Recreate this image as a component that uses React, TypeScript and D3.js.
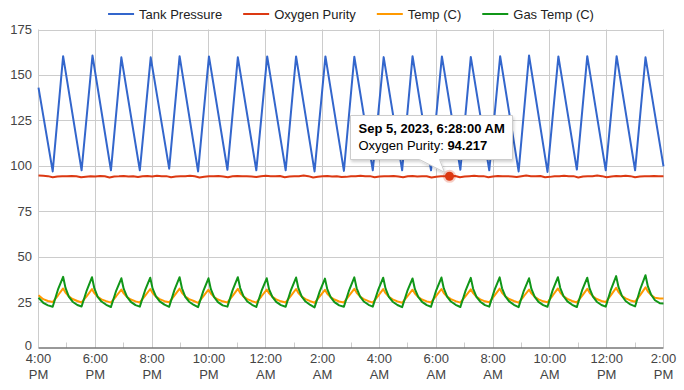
import React, { useEffect, useRef } from 'react'
import * as d3 from 'd3'

const seriesNames = ['Tank Pressure', 'Oxygen Purity', 'Temp (C)', 'Gas Temp (C)']
const seriesColors = ['#3366cc', '#dc3912', '#ff9900', '#109618']
const yTicks = [0, 25, 50, 75, 100, 125, 150, 175]

// times are minutes after Sep 4 2023, 4:00 PM
const tankMinutes = [0,
  30, 52, 91, 114, 153, 175, 214, 237, 276, 298, 337, 360, 399, 421,
  460, 483, 522, 544, 583, 606, 645, 667, 706, 729, 768, 790, 829, 852,
  891, 913, 952, 975, 1014, 1036, 1075, 1098, 1137, 1159, 1198, 1221, 1260, 1282,
  1320]
const tankPressure = [143,
  96.9, 160.3, 97.5, 160.7, 97.5, 159.7, 97.5, 159.7, 98.4, 160.3, 96.9, 160.2, 97.8, 159.7,
  97.5, 160.2, 97.5, 160.2, 96.9, 160.2, 97.2, 160.0, 97.5, 159.8, 97.5, 160.3, 97.5, 160.2,
  97.8, 159.9, 97.5, 160.3, 96.9, 160.7, 96.6, 160.2, 97.9, 160.3, 97.5, 160.3, 97.5, 159.7,
  99.7]

// oxygen purity sampled every 10 minutes
const purityStep = 10
const oxygenPurity = [
  94.6, 94.5, 94.3, 93.7, 94.1, 94.3, 94.2, 94.4, 94.2, 93.7,
  94.0, 94.3, 94.1, 94.4, 94.2, 93.6, 94.1, 94.2, 94.4, 94.1,
  94.3, 93.8, 94.2, 94.4, 94.1, 94.5, 94.2, 94.3, 93.7, 94.1,
  94.3, 94.2, 94.5, 94.2, 93.6, 94.0, 94.3, 94.2, 94.4, 94.1,
  93.7, 94.2, 94.4, 94.2, 94.3, 94.1, 93.8, 94.2, 94.5, 94.3,
  94.2, 94.4, 93.7, 94.1, 94.3, 94.2, 94.6, 94.3, 93.6, 94.0,
  94.2, 94.4, 94.1, 94.3, 93.8, 93.9, 94.3, 94.2, 94.5, 94.2,
  94.3, 93.7, 94.1, 94.3, 94.2, 94.4, 94.1, 93.7, 94.2, 94.4,
  94.1, 94.3, 94.2, 93.6, 94.0, 94.2, 94.3, 94.2, 94.4, 93.7,
  94.1, 94.3, 94.5, 94.2, 94.3, 93.7, 94.1, 94.4, 94.2, 94.3,
  94.1, 93.8, 94.2, 94.6, 94.3, 94.2, 94.4, 93.7, 93.9, 94.3,
  94.2, 94.5, 94.2, 94.3, 93.6, 94.1, 94.3, 94.2, 94.6, 94.3,
  93.7, 94.1, 94.4, 94.2, 94.5, 94.3, 93.7, 94.1, 94.3, 94.2,
  94.4, 94.2, 94.3]

// temperature samples: lead-in, then one row per compressor cycle
// (offsets in minutes from each pressure trough), then the last sample
const leadMinutes = [0, 10, 20]
const cycleOffsets = [0, 11, 22, 27, 34, 42, 52]
const endMinute = 1320

const tempLead = [28.8, 26.6, 25.6]
const tempCycles = [
  [25.0, 28.6, 32.5, 30.2, 28.1, 26.7, 25.6],
  [24.8, 28.3, 32.1, 29.9, 27.9, 26.5, 25.5],
  [24.7, 28.2, 31.9, 29.8, 27.8, 26.4, 25.4],
  [24.8, 28.4, 32.2, 30.0, 28.0, 26.6, 25.5],
  [24.9, 28.5, 32.4, 30.1, 28.1, 26.6, 25.6],
  [24.6, 28.1, 31.8, 29.7, 27.8, 26.4, 25.4],
  [24.8, 28.4, 32.3, 30.0, 28.0, 26.6, 25.5],
  [24.7, 28.2, 31.9, 29.8, 27.9, 26.5, 25.4],
  [24.8, 28.4, 32.2, 30.0, 28.0, 26.6, 25.5],
  [24.6, 28.1, 31.7, 29.6, 27.7, 26.4, 25.3],
  [24.8, 28.5, 32.3, 30.1, 28.1, 26.6, 25.5],
  [24.7, 28.3, 32.1, 29.9, 27.9, 26.5, 25.4],
  [24.6, 28.1, 31.8, 29.7, 27.8, 26.4, 25.4],
  [24.8, 28.4, 32.2, 30.0, 28.0, 26.6, 25.5],
  [24.7, 28.3, 32.0, 29.9, 27.9, 26.5, 25.4],
  [24.9, 28.5, 32.4, 30.1, 28.1, 26.7, 25.6],
  [24.7, 28.2, 31.9, 29.8, 27.9, 26.5, 25.4],
  [24.9, 28.6, 32.5, 30.2, 28.2, 26.8, 25.6],
  [24.8, 28.4, 32.3, 30.1, 28.1, 26.7, 25.6],
  [25.0, 28.8, 32.8, 30.5, 28.4, 27.0, 25.9],
  [25.2, 29.0, 33.1, 30.8, 28.8, 27.4, 27.0],
]
const tempEnd = 26.9

const gasTempLead = [27.4, 24.6, 23.2]
const gasTempCycles = [
  [22.4, 31.8, 38.9, 32.8, 28.0, 25.2, 23.4],
  [22.6, 31.5, 38.7, 32.5, 27.9, 25.3, 23.5],
  [22.3, 31.2, 38.1, 32.2, 27.8, 25.1, 23.3],
  [22.5, 31.4, 38.4, 32.4, 28.1, 25.4, 23.6],
  [22.4, 31.6, 38.7, 32.6, 27.9, 25.2, 23.4],
  [22.2, 31.0, 38.1, 32.1, 27.7, 25.0, 23.2],
  [22.5, 31.6, 38.7, 32.7, 28.2, 25.3, 23.5],
  [22.3, 31.1, 38.1, 32.0, 27.8, 25.1, 23.3],
  [22.4, 31.5, 38.5, 32.5, 28.0, 25.3, 23.4],
  [22.1, 30.9, 37.9, 32.0, 27.7, 25.0, 23.2],
  [22.4, 31.5, 38.6, 32.6, 28.1, 25.3, 23.5],
  [22.5, 31.4, 38.4, 32.4, 27.9, 25.2, 23.4],
  [22.2, 31.1, 38.0, 32.1, 27.8, 25.1, 23.3],
  [22.4, 31.5, 38.5, 32.5, 28.0, 25.3, 23.5],
  [22.3, 31.3, 38.3, 32.3, 27.9, 25.2, 23.3],
  [22.5, 31.6, 38.6, 32.6, 28.1, 25.4, 23.5],
  [22.2, 31.2, 38.1, 32.2, 27.8, 25.1, 23.3],
  [22.4, 31.6, 38.7, 32.7, 28.2, 25.4, 23.5],
  [22.3, 31.4, 38.4, 32.4, 28.0, 25.2, 23.4],
  [22.5, 31.9, 39.3, 33.2, 28.5, 25.6, 23.7],
  [22.6, 32.2, 39.8, 33.6, 29.0, 26.0, 24.4],
]
const gasTempEnd = 24.2

// hovered point
const tipMinute = 868
const tipValue = 94.217
const tipTitle = 'Sep 5, 2023, 6:28:00 AM'
const tipLabel = 'Oxygen Purity: '
const tipValueText = '94.217'

const FONT = 'Arial, "Liberation Sans", sans-serif'

type Pt = { m: number; v: number }

function cyclePoints(lead: number[], rows: number[][], last: number): Pt[] {
  const troughs = tankMinutes.filter((_, i) => i % 2 === 1 && i < tankMinutes.length - 1)
  const pts: Pt[] = leadMinutes.map((m, i) => ({ m, v: lead[i] }))
  rows.forEach((row, k) => {
    row.forEach((v, j) => pts.push({ m: troughs[k] + cycleOffsets[j], v }))
  })
  pts.push({ m: endMinute, v: last })
  return pts
}

export default function App() {
  const ref = useRef<SVGSVGElement>(null)

  useEffect(() => {
    document.body.style.margin = '0'
    const svg = d3.select(ref.current)
    svg.selectAll('*').remove()

    const left = 38.5, right = 663.5, top = 29.5, bottom = 347.5
    const t0 = new Date(2023, 8, 4, 16, 0)
    const t1 = new Date(2023, 8, 5, 14, 0)
    const at = (m: number) => new Date(t0.getTime() + m * 60000)

    const x = d3.scaleTime().domain([t0, t1]).range([left, right])
    const y = d3.scaleLinear().domain([0, 175]).range([bottom, top])

    const defs = svg.append('defs')
    const f = defs.append('filter').attr('id', 'tipShadow')
      .attr('x', '-20%').attr('y', '-20%').attr('width', '140%').attr('height', '160%')
    f.append('feDropShadow').attr('dx', 1).attr('dy', 2).attr('stdDeviation', 1.5)
      .attr('flood-color', '#000').attr('flood-opacity', 0.18)

    // grid
    const grid = svg.append('g')
    grid.selectAll('line.h')
      .data(yTicks.filter(d => d !== 0))
      .join('line')
      .attr('x1', left).attr('x2', right)
      .attr('y1', d => Math.round(y(d)) + 0.5).attr('y2', d => Math.round(y(d)) + 0.5)
      .attr('stroke', '#cccccc')

    const major = x.ticks(d3.timeHour.every(2)!)
    grid.selectAll('line.v')
      .data(major)
      .join('line')
      .attr('x1', d => Math.round(x(d) - 0.5) + 0.5).attr('x2', d => Math.round(x(d) - 0.5) + 0.5)
      .attr('y1', top).attr('y2', bottom)
      .attr('stroke', '#cccccc')

    const minor = x.ticks(d3.timeHour.every(1)!).filter(d => d.getHours() % 2 === 1)
    grid.selectAll('line.m')
      .data(minor)
      .join('line')
      .attr('x1', d => Math.round(x(d) - 0.5) + 0.5).attr('x2', d => Math.round(x(d) - 0.5) + 0.5)
      .attr('y1', bottom - 5).attr('y2', bottom)
      .attr('stroke', '#cccccc')

    // y labels
    svg.append('g').selectAll('text')
      .data(yTicks)
      .join('text')
      .attr('x', 32).attr('y', d => y(d) - (d === 0 ? 2 : 0)).attr('dy', '0.35em')
      .attr('text-anchor', 'end')
      .attr('font-family', FONT).attr('font-size', 13).attr('fill', '#444')
      .text(d => d)

    // x labels
    const xl = svg.append('g').selectAll('text')
      .data(major)
      .join('text')
      .attr('text-anchor', 'middle')
      .attr('font-family', FONT).attr('font-size', 13).attr('fill', '#444')
    xl.append('tspan').attr('x', d => x(d)).attr('y', 363).text(d => d3.timeFormat('%-I:%M')(d))
    xl.append('tspan').attr('x', d => x(d)).attr('y', 379).text(d => d3.timeFormat('%p')(d))

    // series
    const line = d3.line<Pt>().x(d => x(at(d.m))).y(d => y(d.v))
    const series: Pt[][] = [
      tankMinutes.map((m, i) => ({ m, v: tankPressure[i] })),
      oxygenPurity.map((v, i) => ({ m: i * purityStep, v })),
      cyclePoints(tempLead, tempCycles, tempEnd),
      cyclePoints(gasTempLead, gasTempCycles, gasTempEnd),
    ]
    svg.append('g').selectAll('path')
      .data(series)
      .join('path')
      .attr('d', d => line(d))
      .attr('fill', 'none')
      .attr('stroke', (_, i) => seriesColors[i])
      .attr('stroke-width', 2)
      .attr('stroke-linejoin', 'round')

    // baseline
    svg.append('line')
      .attr('x1', left).attr('x2', right)
      .attr('y1', y(0) + 0.5).attr('y2', y(0) + 0.5)
      .attr('stroke', '#333')

    // legend
    const lg = svg.append('g')
    let cx = 0
    const items = seriesNames.map((name, i) => {
      const g = lg.append('g')
      g.append('line').attr('x1', 0).attr('x2', 26).attr('y1', 14).attr('y2', 14)
        .attr('stroke', seriesColors[i]).attr('stroke-width', 2)
      const t = g.append('text').attr('x', 31).attr('y', 14).attr('dy', '0.35em')
        .attr('font-family', FONT).attr('font-size', 13).attr('fill', '#222').text(name)
      const w = 31 + (t.node() as SVGTextElement).getComputedTextLength()
      return { g, w }
    })
    items.forEach((it, i) => {
      it.g.attr('transform', `translate(${cx},0)`)
      cx += it.w + (i < items.length - 1 ? 21 : 0)
    })
    lg.attr('transform', `translate(${(left + right) / 2 - cx / 2},0)`)

    // tooltip
    const px = x(at(tipMinute)), py = y(tipValue)
    svg.append('circle').attr('cx', px).attr('cy', py).attr('r', 6.5)
      .attr('fill', seriesColors[1]).attr('opacity', 0.25)
    svg.append('circle').attr('cx', px).attr('cy', py).attr('r', 4.5)
      .attr('fill', seriesColors[1])

    const bx = Math.round(px - 99) + 0.5, by = Math.round(py - 61) + 0.5
    const bw = 162, bh = 44
    const tip = svg.append('g')
    tip.append('path')
      .attr('d', `M${bx},${by}H${bx + bw}V${by + bh}H${px - 10}L${px - 5},${py - 4}L${px - 30},${by + bh}H${bx}Z`)
      .attr('fill', '#fff').attr('stroke', '#cccccc').attr('filter', 'url(#tipShadow)')
    tip.append('text').attr('x', bx + 8).attr('y', by + 17.5)
      .attr('font-family', FONT).attr('font-size', 13).attr('font-weight', 'bold').attr('fill', '#000')
      .text(tipTitle)
    const t2 = tip.append('text').attr('x', bx + 8).attr('y', by + 34)
      .attr('font-family', FONT).attr('font-size', 13).attr('fill', '#000')
    t2.append('tspan').text(tipLabel)
    t2.append('tspan').attr('font-weight', 'bold').text(tipValueText)
  }, [])

  return <svg ref={ref} width={684} height={390} style={{ display: 'block', background: '#fff' }} />
}
